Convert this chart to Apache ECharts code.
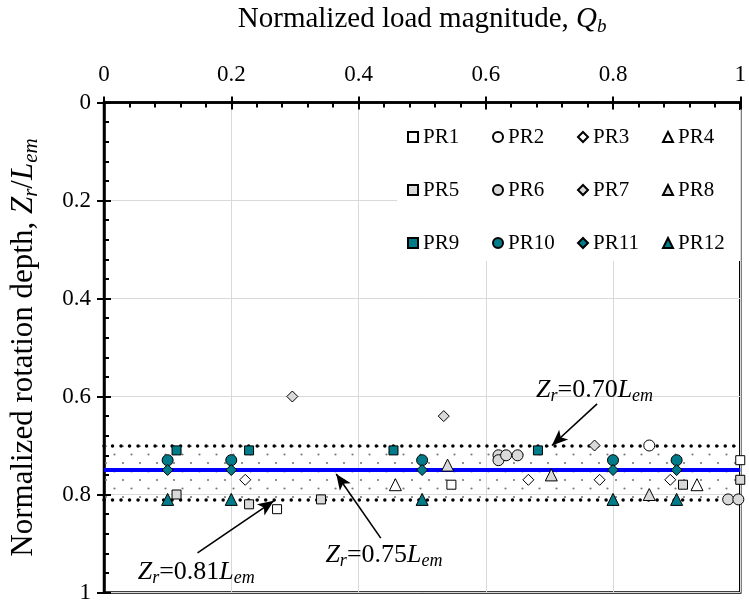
<!DOCTYPE html>
<html>
<head>
<meta charset="utf-8">
<script src="https://cdn.jsdelivr.net/npm/echarts@6/dist/echarts.min.js"></script>
<style>html,body{margin:0;padding:0;background:#fff;}#c{width:749px;height:604px;}</style>
</head>
<body>
<div id="c"></div>
<script>
// ---------- data ----------
const xTicks = [0, 0.2, 0.4, 0.6, 0.8, 1];
const yTicks = [0, 0.2, 0.4, 0.6, 0.8, 1];
const seriesNames = ['PR1','PR2','PR3','PR4','PR5','PR6','PR7','PR8','PR9','PR10','PR11','PR12'];
const PR1 = [[0.272,0.83],[0.546,0.78],[1.0,0.73]];
const PR2 = [[0.857,0.70]];
const PR3 = [[0.222,0.77],[0.667,0.77],[0.779,0.77],[0.890,0.77]];
const PR4 = [[0.458,0.78],[0.932,0.78]];
const PR5 = [[0.114,0.80],[0.228,0.82],[0.341,0.81],[0.910,0.78],[1.0,0.77]];
const PR6 = [[0.620,0.72],[0.620,0.73],[0.632,0.72],[0.650,0.72],[0.981,0.81],[0.997,0.81]];
const PR7 = [[0.296,0.60],[0.534,0.64],[0.771,0.70]];
const PR8 = [[0.540,0.74],[0.703,0.76],[0.857,0.80]];
const PR9 = [[0.114,0.71],[0.228,0.71],[0.455,0.71],[0.682,0.71]];
const PR10 = [[0.1,0.73],[0.2,0.73],[0.5,0.73],[0.8,0.73],[0.9,0.73]];
const PR11 = [[0.1,0.75],[0.2,0.75],[0.5,0.75],[0.8,0.75],[0.9,0.75]];
const PR12 = [[0.1,0.81],[0.2,0.81],[0.5,0.81],[0.8,0.81],[0.9,0.81]];
const seriesData = [PR1,PR2,PR3,PR4,PR5,PR6,PR7,PR8,PR9,PR10,PR11,PR12];
const bandLow = 0.70, bandMid = 0.75, bandHigh = 0.81;
const annotLabels = ['0.70','0.75','0.81'];
const annotTextPos = [[0.771,0.587],[0.44,0.923],[0.145,0.958]];
const annotArrowFrom = [[0.775,0.615],[0.435,0.889],[0.147,0.919]];
const annotArrowTo = [[0.704,0.700],[0.365,0.758],[0.267,0.813]];

// ---------- styles ----------
const F = "'Liberation Serif','Times New Roman',serif";
const TEAL = '#007B8A', GRAY = '#D9D9D9', WHITE = '#FFFFFF';
const fills = [WHITE,WHITE,WHITE,WHITE,GRAY,GRAY,GRAY,GRAY,TEAL,TEAL,TEAL,TEAL];
const shapes = ['rect','circle','diamond','triangle'];
const sizes = {rect:9, circle:11, diamond:11, triangle:12};

function richSet(fs, subFs, lh) {
  return {
    n: {fontFamily:F, fontSize:fs, color:'#000', lineHeight:lh},
    i: {fontFamily:F, fontSize:fs, color:'#000', fontStyle:'italic', lineHeight:lh},
    s: {fontFamily:F, fontSize:subFs, color:'#000', fontStyle:'italic', lineHeight:Math.round(subFs*0.7), verticalAlign:'bottom'}
  };
}

function dotPattern() {
  const c = document.createElement('canvas');
  c.width = 17; c.height = 17;
  const ctx = c.getContext('2d');
  ctx.fillStyle = '#7a7a7a';
  [[4,4],[12.5,12.5]].forEach(p => { ctx.beginPath(); ctx.arc(p[0], p[1], 1.1, 0, Math.PI*2); ctx.fill(); });
  return c;
}

const series = seriesNames.map((name, k) => {
  const shp = shapes[k % 4];
  return {
    name, type:'scatter', data: seriesData[k], symbol: shp, symbolSize: sizes[shp],
    itemStyle: {color: fills[k], borderColor:'#000', borderWidth:1, opacity:1},
    z: 10, clip: false
  };
});

const annRich = richSet(26, 18, 31);
series.push({
  name:'bands', type:'scatter', data: [], z: 3,
  markArea: {silent:true, z:1, itemStyle:{color:{image: dotPattern(), repeat:'repeat'}},
    data: [[{yAxis: bandLow}, {yAxis: bandHigh}]]},
  markLine: {silent:true, z:4, symbol:'none', label:{show:false},
    data: [
      {yAxis: bandLow, lineStyle:{color:'#000', width:3.5, type:[0.01, 8.5], cap:'round'}},
      {yAxis: bandHigh, lineStyle:{color:'#000', width:3.5, type:[0.01, 8.5], cap:'round'}},
      {yAxis: bandMid, lineStyle:{color:'#0000FF', width:4, type:'solid'}}
    ]}
});
series.push({
  name:'annot', type:'scatter', data: [], z: 12,
  markLine: {silent:true, z:12, symbol:['none','arrow'], symbolSize:[10,16], label:{show:false},
    lineStyle:{color:'#000', width:1.6, type:'solid'},
    data: annotArrowFrom.map((p, k) => [{coord:p}, {coord: annotArrowTo[k]}])},
  markPoint: {silent:true, z:12, symbol:'rect', symbolSize:1, itemStyle:{color:'rgba(0,0,0,0)'},
    data: annotTextPos.map((p, k) => ({coord:p, label:{show:true, position:'inside',
      formatter: '{i|Z}{s|r}{n|=' + annotLabels[k] + '}{i|L}{s|em}', rich: annRich}}))}
});

const xRich = richSet(29, 19, 34);
const yRich = richSet(31, 21, 37);
const option = {
  animation: false,
  backgroundColor: '#fff',
  grid: {left:104, right:4, top:92, bottom:8, show:true, borderColor:'#000', borderWidth:2.5, backgroundColor:'transparent'},
  legend: {
    data: seriesNames, left: 397, top: 110, width: 330, orient:'horizontal',
    itemWidth:10, itemHeight:10, itemGap:17, selectedMode:false,
    textStyle: {fontFamily:F, fontSize:21, color:'#000', width:52, lineHeight:36},
    padding: [9, 10, 0, 10], backgroundColor:'#fff'
  },
  xAxis: [{
    type:'value', position:'top', min: xTicks[0], max: xTicks[xTicks.length-1], interval: 0.2,
    name: '{n|Normalized load magnitude, }{i|Q}{s|b}', nameLocation:'middle', nameGap: 66,
    nameTextStyle: {rich: xRich},
    axisLine: {show:true, onZero:false, lineStyle:{color:'#000', width:2.5}},
    axisTick: {show:true, inside:true, length:7, lineStyle:{color:'#000', width:2}},
    minorTick: {show:true, splitNumber:5, length:5, lineStyle:{color:'#000', width:2}},
    axisLabel: {fontFamily:F, fontSize:23, color:'#000', margin:16},
    splitLine: {show:true, lineStyle:{color:'#d9d9d9', width:1}}
  }, {
    type:'value', position:'top', min:0, max:1, interval:0.2, gridIndex:0,
    axisLine:{show:false}, axisLabel:{show:false}, splitLine:{show:false},
    axisTick:{show:true, inside:false, length:6, lineStyle:{color:'#000', width:2}}
  }],
  yAxis: [{
    type:'value', inverse:true, min: yTicks[0], max: yTicks[yTicks.length-1], interval: 0.2,
    name: '{n|Normalized rotation depth, }{i|Z}{s|r}{n|/}{i|L}{s|em}', nameLocation:'middle', nameGap: 62,
    nameRotate: 90, nameTextStyle: {rich: yRich},
    axisLine: {show:true, onZero:false, lineStyle:{color:'#000', width:2.5}},
    axisTick: {show:true, inside:true, length:7, lineStyle:{color:'#000', width:2}},
    minorTick: {show:true, splitNumber:5, length:5, lineStyle:{color:'#000', width:2}},
    axisLabel: {fontFamily:F, fontSize:23, color:'#000', margin:13},
    splitLine: {show:true, lineStyle:{color:'#d9d9d9', width:1}}
  }, {
    type:'value', inverse:true, min:0, max:1, interval:0.2, gridIndex:0, position:'left',
    axisLine:{show:false}, axisLabel:{show:false}, splitLine:{show:false},
    axisTick:{show:true, inside:false, length:7, lineStyle:{color:'#000', width:2}}
  }],
  series: series
};

const chart = echarts.init(document.getElementById('c'), null, {renderer:'canvas'});
chart.setOption(option);
</script>
</body>
</html>
